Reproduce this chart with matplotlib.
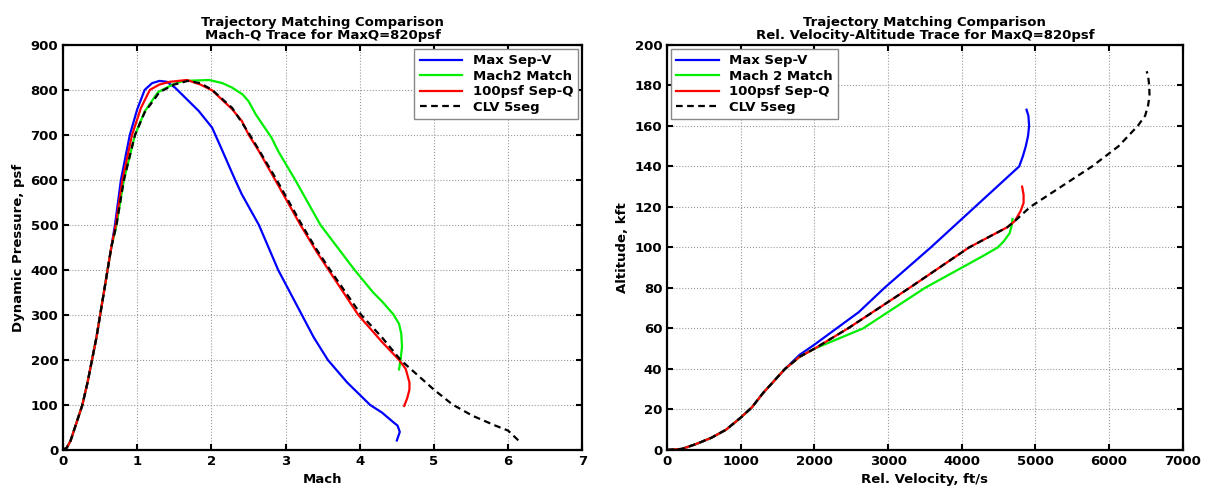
import numpy as np
import matplotlib.pyplot as plt

# ---- Mach-Q trace (left) ----
rise_mach = [0.0, 0.05, 0.1, 0.17, 0.26, 0.33, 0.39, 0.45, 0.5, 0.55, 0.6, 0.65]
rise_q = [0, 5, 20, 55, 100, 150, 200, 250, 300, 350, 400, 450]

blue_mach = [0.7, 0.78, 0.9, 1.0, 1.1, 1.2, 1.3, 1.4, 1.51, 1.83, 2.01, 2.15, 2.32, 2.41,
             2.64, 2.77, 2.9, 3.06, 3.22, 3.38, 3.57, 3.83, 4.14, 4.3, 4.45, 4.51, 4.54, 4.5]
blue_q = [500, 600, 700, 757, 800, 815, 820, 818, 805, 753, 716, 664, 600, 568,
          500, 450, 400, 350, 300, 250, 200, 150, 100, 83, 62, 54, 40, 21]

green_mach = [0.72, 0.82, 0.97, 1.1, 1.28, 1.48, 1.62, 1.97, 2.15, 2.28, 2.42, 2.5, 2.6,
              2.81, 2.9, 3.13, 3.47, 3.7, 3.93, 4.18, 4.3, 4.45, 4.53, 4.56, 4.57, 4.55, 4.53]
green_q = [500, 600, 700, 752, 795, 812, 820, 822, 815, 805, 790, 775, 745,
           694, 664, 600, 500, 450, 400, 350, 330, 302, 280, 258, 229, 200, 179]

red_mach = [0.71, 0.8, 0.93, 1.05, 1.17, 1.3, 1.44, 1.67, 1.85, 2.01, 2.28, 2.41, 2.5, 2.64,
            2.86, 3.2, 3.42, 3.58, 3.98, 4.3, 4.53, 4.62, 4.67, 4.67, 4.64, 4.6]
red_q = [500, 600, 700, 760, 800, 812, 818, 822, 812, 799, 757, 731, 701, 664,
         600, 500, 440, 400, 300, 240, 200, 180, 150, 134, 115, 98]

clv_mach = [0.72, 0.82, 0.97, 1.1, 1.3, 1.5, 1.68, 1.85, 2.01, 2.28, 2.5, 2.65, 2.88, 3.22,
            3.4, 3.6, 4.02, 4.3, 4.55, 5.0, 5.25, 5.52, 5.83, 6.0, 6.14]
clv_q = [500, 600, 700, 750, 795, 812, 820, 815, 800, 760, 705, 664, 600, 500,
         450, 400, 300, 250, 200, 134, 101, 76, 54, 43, 21]

# ---- velocity-altitude trace (right) ----
rise_vel = [0, 200, 400, 600, 800, 1000, 1150, 1300, 1450, 1600]
rise_alt = [0, 0.5, 3, 6, 10, 16, 21, 28, 34, 40]

blue_vel = [1800, 2000, 2300, 2600, 2950, 3580, 4180, 4780, 4830, 4870, 4900, 4915, 4905, 4880]
blue_alt = [47, 52, 60, 68, 80, 100, 120, 140, 145, 150, 155, 160, 165, 168]

green_vel = [1800, 2000, 2660, 3500, 4300, 4490, 4570, 4650, 4680, 4690]
green_alt = [46, 50, 60, 80, 96, 100, 103, 107, 111, 114]

red_vel = [1800, 2000, 2455, 3290, 4100, 4620, 4720, 4800, 4840, 4840, 4820]
red_alt = [46, 50, 60, 80, 100, 110, 113, 118, 122, 126, 130]

clv_vel = [1800, 2000, 2455, 3290, 4100, 4620, 4720, 4930, 5770, 6130, 6390, 6490,
           6530, 6550, 6545, 6530, 6510]
clv_alt = [46, 50, 60, 80, 100, 110, 113, 120, 140, 150, 160, 165, 170, 175, 180, 185, 187]

series = ['Max Sep-V', 'Mach2 Match', '100psf Sep-Q', 'CLV 5seg']
series_r = ['Max Sep-V', 'Mach 2 Match', '100psf Sep-Q', 'CLV 5seg']
colors = ['#0000ff', '#00ee00', '#ff0000', 'black']

plt.rcParams['font.family'] = 'DejaVu Sans'
plt.rcParams['font.weight'] = 'bold'
plt.rcParams['font.size'] = 9.5

fig = plt.figure(figsize=(12.13, 4.88), dpi=100)
ax1 = fig.add_axes([0.052, 0.078, 0.428, 0.83])
ax2 = fig.add_axes([0.55, 0.078, 0.425, 0.83])


def join(a, b):
    return list(a) + list(b)


lw = 1.6
for xs, ys, c, lab in [(blue_mach, blue_q, colors[0], series[0]),
                       (green_mach, green_q, colors[1], series[1]),
                       (red_mach, red_q, colors[2], series[2])]:
    ax1.plot(join(rise_mach, xs), join(rise_q, ys), color=c, lw=lw, label=lab)
ax1.plot(join(rise_mach, clv_mach), join(rise_q, clv_q), color='black', lw=lw,
         ls=(0, (3, 2)), label=series[3])

for xs, ys, c, lab in [(blue_vel, blue_alt, colors[0], series_r[0]),
                       (green_vel, green_alt, colors[1], series_r[1]),
                       (red_vel, red_alt, colors[2], series_r[2])]:
    ax2.plot(join(rise_vel, xs), join(rise_alt, ys), color=c, lw=lw, label=lab)
ax2.plot(join(rise_vel, clv_vel), join(rise_alt, clv_alt), color='black', lw=lw,
         ls=(0, (3, 2)), label=series_r[3])

ax1.set_xlim(0, 7)
ax1.set_ylim(0, 900)
ax1.set_xticks(range(0, 8))
ax1.set_yticks(range(0, 901, 100))
ax1.set_xlabel('Mach', fontweight='bold')
ax1.set_ylabel('Dynamic Pressure, psf', fontweight='bold')
ax1.set_title('Trajectory Matching Comparison\nMach-Q Trace for MaxQ=820psf',
              fontweight='bold', fontsize=9.5, linespacing=1.0, pad=4)
ax1.legend(loc='upper right', fancybox=False, edgecolor='#888888',
           framealpha=1, borderaxespad=0.3, handlelength=3.2, labelspacing=0.2)

ax2.set_xlim(0, 7000)
ax2.set_ylim(0, 200)
ax2.set_xticks(range(0, 7001, 1000))
ax2.set_yticks(range(0, 201, 20))
ax2.set_xlabel('Rel. Velocity, ft/s', fontweight='bold')
ax2.set_ylabel('Altitude, kft', fontweight='bold')
ax2.set_title('Trajectory Matching Comparison\nRel. Velocity-Altitude Trace for MaxQ=820psf',
              fontweight='bold', fontsize=9.5, linespacing=1.0, pad=4)
ax2.legend(loc='upper left', fancybox=False, edgecolor='#888888',
           framealpha=1, borderaxespad=0.3, handlelength=3.2, labelspacing=0.2)

for ax in (ax1, ax2):
    ax.grid(True, ls=':', color='#999999', lw=0.8)
    ax.tick_params(direction='in', top=True, right=True, length=4, width=1.5)
    for s in ax.spines.values():
        s.set_linewidth(1.6)

fig.savefig('out.png', dpi=100)
